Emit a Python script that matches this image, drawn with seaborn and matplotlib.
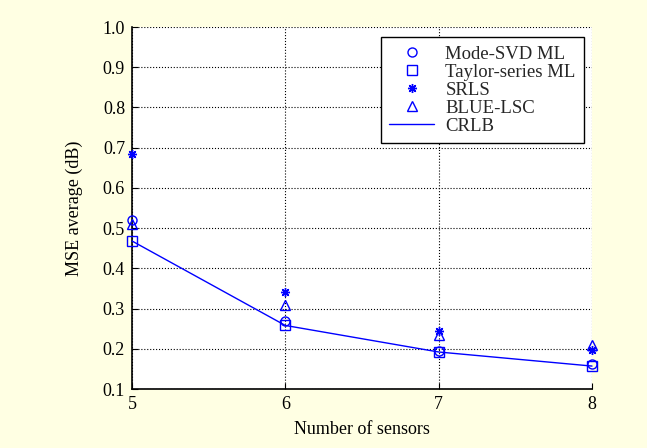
import matplotlib
matplotlib.use("Agg")
import matplotlib.pyplot as plt
import seaborn as sns

sensors = [5, 6, 7, 8]
mode_svd_ml = [0.520, 0.270, 0.195, 0.163]
taylor_ml = [0.468, 0.260, 0.193, 0.157]
srls = [0.685, 0.342, 0.245, 0.198]
blue_lsc = [0.510, 0.310, 0.235, 0.210]
crlb = [0.468, 0.258, 0.192, 0.157]

sns.set_theme(style="white")
plt.rcParams['font.family'] = ['Liberation Serif', 'DejaVu Serif']
plt.rcParams['mathtext.fontset'] = 'stix'

bg = '#FFFFE3'
fig = plt.figure(figsize=(6.47, 4.48), dpi=100, facecolor=bg)
ax = fig.add_axes([132/647, 1 - 389/448, 460/647, 362/448])
ax.set_facecolor('white')

blue = '#0000FF'
ms = 6.5
common = dict(ax=ax, color=blue, linestyle='', markersize=ms, markeredgewidth=1.0,
              clip_on=False, zorder=5)

sns.lineplot(x=sensors, y=mode_svd_ml, marker='o', markerfacecolor='none',
             markeredgecolor=blue, label='Mode-SVD ML', **common)
sns.lineplot(x=sensors, y=taylor_ml, marker='s', markerfacecolor='none',
             markeredgecolor=blue, label='Taylor-series ML', **common)
sns.lineplot(x=sensors, y=srls, marker=(8, 2, 0), markerfacecolor=blue,
             markeredgecolor=blue, label='SRLS', **common)
sns.lineplot(x=sensors, y=blue_lsc, marker='^', markerfacecolor='none',
             markeredgecolor=blue, label='BLUE-LSC', **common)
sns.lineplot(x=sensors, y=crlb, color=blue, linewidth=1.0, ax=ax, label='CRLB',
             clip_on=False, zorder=4)

ax.set_xlim(5, 8)
ax.set_ylim(0.1, 1.0)
ax.set_xticks(sensors)
ax.set_xticklabels([str(s) for s in sensors])
yt = [0.1, 0.2, 0.3, 0.4, 0.5, 0.6, 0.7, 0.8, 0.9, 1.0]
ax.set_yticks(yt)
ax.set_yticklabels([f"{v:.1f}" for v in yt])

ax.grid(True, color='black', linestyle=':', linewidth=0.8)
for s in ['top', 'right']:
    ax.spines[s].set_visible(False)
for s in ['left', 'bottom']:
    ax.spines[s].set_color('black')
    ax.spines[s].set_linewidth(1.2)

ax.tick_params(axis='both', direction='in', length=4, width=0.8, colors='black',
               labelsize=13, left=True, bottom=True, pad=5)

ax.set_xlabel('Number of sensors', fontsize=13, color='black', labelpad=6)
ax.set_ylabel('MSE average (dB)', fontsize=13, color='black', labelpad=14)

leg = ax.legend(loc='upper right', bbox_to_anchor=(0.983, 0.972),
                prop={'size': 13.5},
                frameon=True, fancybox=False, edgecolor='black', framealpha=1,
                borderpad=0.45, labelspacing=0.05, handlelength=2.4,
                handletextpad=0.6, borderaxespad=0)
leg.get_frame().set_linewidth(1.0)
leg.set_zorder(10)

fig.savefig('out.png', dpi=100, facecolor=bg)
